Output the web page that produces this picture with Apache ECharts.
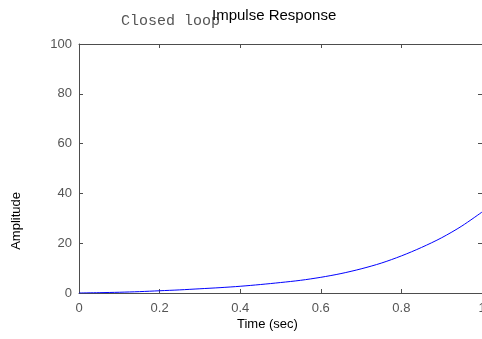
<!DOCTYPE html>
<html>
<head>
<meta charset="utf-8">
<script src="https://cdn.jsdelivr.net/npm/echarts@6/dist/echarts.min.js"></script>
<style>
  html, body { margin: 0; padding: 0; background: #fff; }
  #main { width: 482px; height: 339px; }
</style>
</head>
<body>
<div id="main"></div>
<script>
// time samples (sec) and the read-off amplitude
var timeSec = [0, 0.05, 0.1, 0.15, 0.2, 0.25, 0.3, 0.35, 0.4, 0.45, 0.5,
               0.55, 0.6, 0.65, 0.7, 0.75, 0.8, 0.85, 0.9, 0.95, 1.0];
var amplitude = [0, 0.13, 0.3, 0.55, 0.9, 1.25, 1.7, 2.15, 2.7, 3.4, 4.2,
                 5.1, 6.3, 7.8, 9.7, 12.0, 14.9, 18.3, 22.2, 26.9, 32.5];
var xTicks = [0, 0.2, 0.4, 0.6, 0.8, 1];
var yTicks = [0, 20, 40, 60, 80, 100];

var axisGray = '#4d4d4d';
var labelGray = '#555';

var pts = [];
for (var i = 0; i < timeSec.length; i++) {
    pts.push([timeSec[i], amplitude[i]]);
}

var chart = echarts.init(document.getElementById('main'), null, { renderer: 'canvas' });

// mirror axes on top/right only carry the inside ticks
function mirror(extra) {
    var a = {
        type: 'value',
        axisLine: { show: true, onZero: false, lineStyle: { color: axisGray, width: 1 } },
        axisTick: { show: true, inside: true, length: 4, lineStyle: { color: axisGray } },
        axisLabel: { show: false },
        splitLine: { show: false }
    };
    for (var k in extra) a[k] = extra[k];
    return a;
}

var option = {
    animation: false,
    backgroundColor: '#fff',
    grid: { left: 79, right: 0, top: 44, bottom: 46, containLabel: false, outerBoundsMode: 'none' },
    graphic: [
        {
            type: 'text', left: 121, top: 14,
            style: { text: 'Closed loop', font: '15px "Liberation Mono", monospace', fill: '#555' }
        },
        {
            type: 'text', left: 212, top: 8,
            style: { text: 'Impulse Response', font: '15px "Liberation Sans", Arial, sans-serif', fill: '#000' }
        },
        {
            type: 'text', left: 237, top: 318,
            style: { text: 'Time (sec)', font: '13px "Liberation Sans", Arial, sans-serif', fill: '#000' }
        },
        {
            type: 'text', left: 10, top: 192, rotation: Math.PI / 2,
            style: { text: 'Amplitude', font: '13px "Liberation Sans", Arial, sans-serif', fill: '#000' }
        }
    ],
    xAxis: [
        {
            type: 'value', min: xTicks[0], max: xTicks[xTicks.length - 1], interval: 0.2,
            position: 'bottom',
            axisLine: { show: true, onZero: false, lineStyle: { color: axisGray, width: 1 } },
            axisTick: { show: true, inside: true, length: 4, lineStyle: { color: axisGray } },
            axisLabel: {
                color: labelGray, fontSize: 13, margin: 9,
                fontFamily: '"Liberation Sans", Arial, sans-serif',
                formatter: function (v) { return String(+v.toFixed(1)); }
            },
            splitLine: { show: false }
        },
        mirror({ min: 0, max: 1, interval: 0.2, position: 'top' })
    ],
    yAxis: [
        {
            type: 'value', min: yTicks[0], max: yTicks[yTicks.length - 1], interval: 20,
            position: 'left',
            axisLine: { show: true, onZero: false, lineStyle: { color: axisGray, width: 1 } },
            axisTick: { show: true, inside: true, length: 4, lineStyle: { color: axisGray } },
            axisLabel: {
                color: labelGray, fontSize: 13, margin: 7,
                fontFamily: '"Liberation Sans", Arial, sans-serif'
            },
            splitLine: { show: false }
        },
        mirror({ min: 0, max: 100, interval: 20, position: 'right' })
    ],
    series: [
        {
            type: 'line',
            xAxisIndex: 0,
            yAxisIndex: 0,
            data: pts,
            smooth: 0.3,
            showSymbol: false,
            lineStyle: { color: '#0000ff', width: 1 },
            clip: true
        }
    ]
};
chart.setOption(option);
</script>
</body>
</html>
